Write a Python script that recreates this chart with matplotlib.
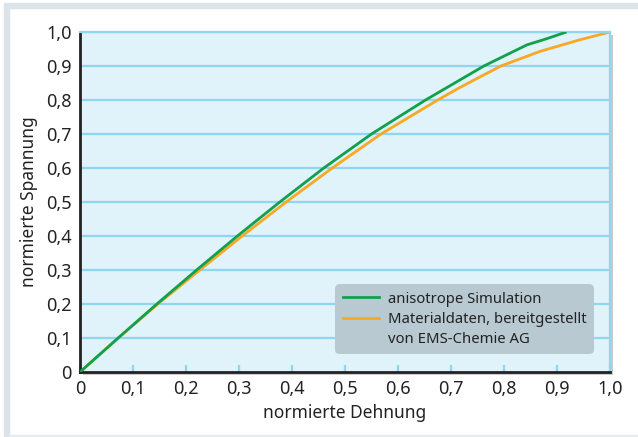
import matplotlib
matplotlib.use('Agg')
import matplotlib.pyplot as plt
import matplotlib.patheffects as pe
from matplotlib.lines import Line2D
from matplotlib.patches import Rectangle

plt.rcParams['font.family'] = ['Noto Sans', 'DejaVu Sans']

sim_x = [0, 0.072, 0.145, 0.22, 0.297, 0.377, 0.460, 0.550, 0.652, 0.762, 0.843, 0.880, 0.918]
sim_y = [0, 0.1, 0.2, 0.3, 0.4, 0.5, 0.6, 0.7, 0.8, 0.9, 0.962, 0.980, 1.0]
mat_x = [0, 0.072, 0.147, 0.226, 0.306, 0.389, 0.476, 0.568, 0.675, 0.717, 0.794, 0.868, 0.943, 1.0]
mat_y = [0, 0.1, 0.2, 0.3, 0.4, 0.5, 0.6, 0.7, 0.8, 0.837, 0.9, 0.943, 0.977, 1.0]
ticks = [0, 0.1, 0.2, 0.3, 0.4, 0.5, 0.6, 0.7, 0.8, 0.9, 1.0]
tick_labels = ['0', '0,1', '0,2', '0,3', '0,4', '0,5', '0,6', '0,7', '0,8', '0,9', '1,0']
labels = ['anisotrope Simulation', 'Materialdaten, bereitgestellt', 'von EMS-Chemie AG']

W, H = 638, 437
fig = plt.figure(figsize=(W / 100, H / 100), dpi=100)

# grey frame around the figure
border = '#dce3e9'
fig.patches.append(Rectangle((4 / W, 1 - 8 / H), 1, 5 / H, transform=fig.transFigure, color=border, zorder=0))
fig.patches.append(Rectangle((4 / W, 1 / H), 5 / W, 1 - 9 / H, transform=fig.transFigure, color=border, zorder=0))
fig.patches.append(Rectangle((9 / W, 1 / H), 1, 1.2 / H, transform=fig.transFigure, color='#e6ebef', zorder=0))

ax = fig.add_axes([80 / W, 65 / H, 530 / W, 340 / H])
ax.set_facecolor('#e0f2fa')
ax.patch.set_path_effects([pe.SimplePatchShadow(offset=(2, -2), shadow_rgbFace='#888888', alpha=0.45),
                           pe.Normal()])

for y in ticks[1:]:
    ax.axhline(y, color='#8fd6f1', lw=1.6, zorder=1)

ax.plot(sim_x, sim_y, color='#11a04c', lw=2, zorder=3, solid_capstyle='butt', solid_joinstyle='round')
ax.plot(mat_x, mat_y, color='#f8a823', lw=2, zorder=2, solid_capstyle='butt', solid_joinstyle='round')

ax.set_xlim(0, 1)
ax.set_ylim(0, 1)
ax.set_xticks(ticks)
ax.set_xticklabels(tick_labels)
ax.set_yticks(ticks)
ax.set_yticklabels(tick_labels)
ax.tick_params(axis='x', direction='in', length=5, width=1.6, color='#8fd6f1', pad=6, labelsize=13, labelcolor='#222222')
ax.tick_params(axis='y', length=0, pad=6, labelsize=13, labelcolor='#222222')

for side in ('left', 'bottom'):
    ax.spines[side].set_color('#222222')
    ax.spines[side].set_linewidth(2)
for side in ('top', 'right'):
    ax.spines[side].set_color('#8fd6f1')
    ax.spines[side].set_linewidth(1.6)

ax.set_xlabel('normierte Dehnung', fontsize=12.5, color='#222222', labelpad=4)
ax.set_ylabel('normierte Spannung', fontsize=12.5, color='#222222', labelpad=6)

handles = [Line2D([], [], color='#11a04c', lw=2),
           Line2D([], [], color='#f8a823', lw=2),
           Line2D([], [], color='none', lw=2)]
leg = ax.legend(handles, labels, loc='lower right', bbox_to_anchor=(0.983, 0.03),
                fontsize=10.7, frameon=True, facecolor='#b9c9d2', edgecolor='none', framealpha=1,
                fancybox=True, handlelength=2.4, handletextpad=0.6, labelspacing=0.35,
                borderpad=0.5, labelcolor='#222222')
leg.get_frame().set_boxstyle('round', pad=0, rounding_size=0.3)

fig.savefig('out.png', dpi=100, facecolor='white')
